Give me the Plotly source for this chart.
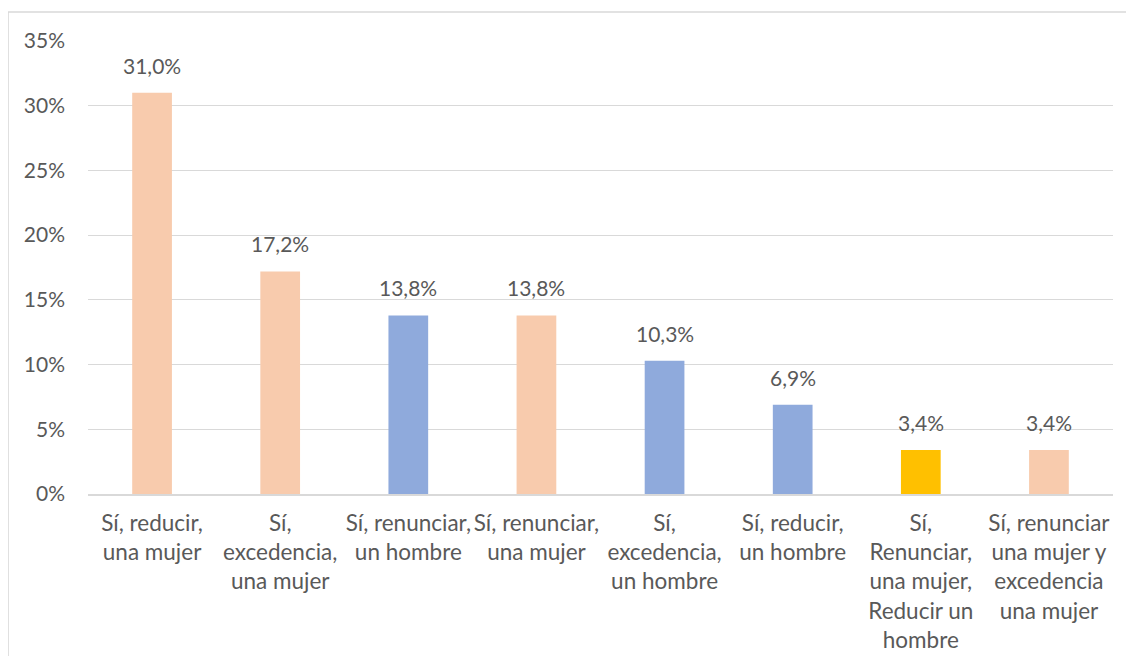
import plotly.graph_objects as go

categorias = [
    "Sí, reducir,<br>una mujer",
    "Sí,<br>excedencia,<br>una mujer",
    "Sí, renunciar,<br>un hombre",
    "Sí, renunciar,<br>una mujer",
    "Sí,<br>excedencia,<br>un hombre",
    "Sí, reducir,<br>un hombre",
    "Sí,<br>Renunciar,<br>una mujer,<br>Reducir un<br>hombre",
    "Sí, renunciar<br>una mujer y<br>excedencia<br>una mujer",
]
valores = [31.0, 17.2, 13.8, 13.8, 10.3, 6.9, 3.4, 3.4]
colores = ["#F8CBAD", "#F8CBAD", "#8FAADC", "#F8CBAD",
           "#8FAADC", "#8FAADC", "#FFC000", "#F8CBAD"]
etiquetas = [f"{v:.1f}%".replace(".", ",") for v in valores]
ticks_y = [0, 5, 10, 15, 20, 25, 30, 35]
ticks_y_txt = [f"{t}%" for t in ticks_y]

GRIS = "#595959"
FUENTE = "Lato, 'Open Sans', sans-serif"

x_idx = list(range(len(categorias)))

fig = go.Figure(go.Bar(
    x=x_idx,
    y=valores,
    marker=dict(color=colores, line=dict(width=0)),
    width=0.31,
    hoverinfo="skip",
))

# etiquetas de datos sobre cada barra
for i, (v, t) in enumerate(zip(valores, etiquetas)):
    fig.add_annotation(
        x=i, y=v, text=t, showarrow=False,
        yanchor="bottom", yshift=13,
        font=dict(size=21, color=GRIS, family=FUENTE),
    )

# marco del gráfico
fig.add_shape(
    type="rect", xref="paper", yref="paper",
    x0=-0.078, x1=1.2, y0=-0.6, y1=1.064,
    line=dict(color="#D9D9D9", width=1.5),
    fillcolor="rgba(0,0,0,0)", layer="below",
)

fig.update_layout(
    plot_bgcolor="white",
    paper_bgcolor="white",
    font=dict(family=FUENTE, size=21, color=GRIS),
    margin=dict(t=33, l=80, r=13, b=162),
    showlegend=False,
    bargap=0.69,
)
fig.update_xaxes(
    tickmode="array",
    tickvals=x_idx,
    ticktext=categorias,
    range=[-0.5, len(categorias) - 0.5],
    showgrid=False,
    showline=True,
    linecolor="#D9D9D9",
    linewidth=1.5,
    ticks="",
    automargin=False,
    ticklabelstandoff=8,
    tickfont=dict(size=22.5, color=GRIS, family=FUENTE),
)
fig.update_yaxes(
    range=[0, 35],
    tickmode="array",
    tickvals=ticks_y,
    ticktext=ticks_y_txt,
    showgrid=True,
    gridcolor="#D9D9D9",
    gridwidth=1,
    zeroline=False,
    showline=False,
    automargin=False,
    ticklabelstandoff=22,
    tickfont=dict(size=21, color=GRIS, family=FUENTE),
)

fig.write_html("out.html")
